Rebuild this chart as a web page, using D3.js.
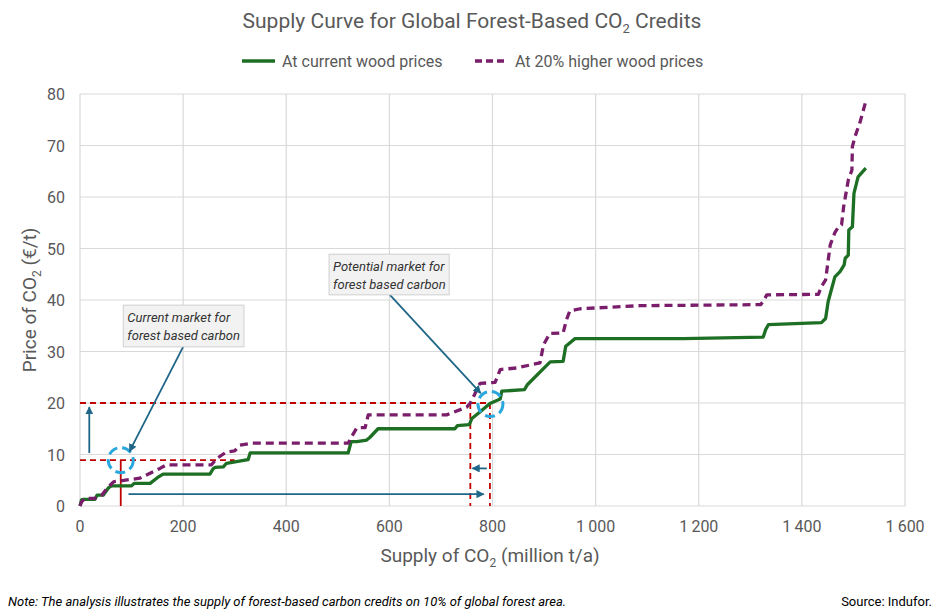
<!DOCTYPE html>
<html>
<head>
<meta charset="utf-8">
<script src="https://cdn.jsdelivr.net/npm/d3@7"></script>
<style>
  body { margin: 0; background: #fff; }
  svg { display: block; font-family: "Roboto", sans-serif; }
</style>
</head>
<body>
<div id="chart"></div>
<script>
// Supply curve data (million t/a vs €/t)
const currentX = [0, 3, 6, 29, 33, 45, 55, 61, 100, 105, 136, 150, 161, 252, 258, 262, 278, 284, 320, 326, 330,
  520, 526, 537, 556, 562, 578, 727, 732, 755, 760, 775, 795, 815, 818, 862, 868, 908, 912, 937, 942, 948, 960,
  1170, 1325, 1330, 1335, 1438, 1446, 1451, 1464, 1474, 1482, 1484, 1490, 1491, 1498, 1501, 1509, 1524];
const currentY = [0, 1.2, 1.3, 1.3, 2.1, 2.1, 3.5, 3.9, 3.9, 4.4, 4.4, 5.5, 6.2, 6.2, 7.2, 7.5, 7.6, 8.3, 8.9, 9.0, 10.3,
  10.3, 12.5, 12.5, 12.8, 13.3, 15.0, 15.0, 15.6, 15.8, 17.0, 18.2, 19.9, 20.8, 22.3, 22.6, 23.6, 27.6, 28.0, 28.1, 31.0, 31.5, 32.5,
  32.5, 32.8, 34.3, 35.2, 35.6, 36.4, 39.7, 44.5, 45.5, 46.8, 48.1, 48.7, 53.6, 54.2, 60.7, 63.9, 65.6];

const higherX = [0, 3, 10, 29, 42, 52, 65, 116, 155, 168, 255, 265, 284, 300, 310, 333,
  520, 527, 537, 553, 559, 711, 750, 757, 766, 772, 776, 805, 815, 847, 892, 899, 911, 937, 943, 950, 970,
  1086, 1320, 1325, 1332, 1432, 1438, 1446, 1455, 1464, 1471, 1477, 1481, 1490, 1497, 1498, 1503, 1513, 1524];
const higherY = [0, 0.8, 1.5, 1.5, 2.1, 3.4, 4.7, 5.4, 7.3, 8.0, 8.0, 9.2, 10.5, 10.7, 11.8, 12.2,
  12.2, 13.5, 15.2, 15.2, 17.7, 17.7, 19.2, 20.0, 21.8, 23.3, 23.8, 24.0, 26.5, 26.8, 27.8, 31.3, 33.5, 33.6, 36.0, 37.9, 38.3,
  38.9, 39.1, 39.7, 41.0, 41.1, 42.6, 43.9, 50.7, 53.1, 54.2, 54.6, 58.1, 63.3, 65.2, 69.8, 71.7, 74.6, 78.6];

const xTicks = [0, 200, 400, 600, 800, 1000, 1200, 1400, 1600];
const yTicks = [0, 10, 20, 30, 40, 50, 60, 70, 80];
const seriesNames = ["At current wood prices", "At 20% higher wood prices"];

// market markers (data units)
const currentMarket = { x: 79, y: 8.9 };
const potentialMarket = { x: 796, y: 19.8 };

const width = 940, height = 615;
const margin = { top: 94, right: 35, bottom: 109, left: 80 };

const svg = d3.select("#chart").append("svg")
  .attr("width", width)
  .attr("height", height);

const x = d3.scaleLinear().domain([0, 1600]).range([margin.left, width - margin.right]);
const y = d3.scaleLinear().domain([0, 80]).range([height - margin.bottom, margin.top]);

const green = "#1d6f24";
const purple = "#7a1e6c";
const red = "#c00000";
const teal = "#1f6688";
const sky = "#2aa7dd";
const textGrey = "#595959";

// arrow markers
const defs = svg.append("defs");
defs.append("marker")
  .attr("id", "arrow")
  .attr("viewBox", "0 0 10 10")
  .attr("refX", 9).attr("refY", 5)
  .attr("markerWidth", 4.5).attr("markerHeight", 4.5)
  .attr("orient", "auto-start-reverse")
  .append("path")
  .attr("d", "M0,0 L10,5 L0,10 Z")
  .attr("fill", teal);

// gridlines
svg.append("g")
  .selectAll("line")
  .data(yTicks)
  .join("line")
  .attr("x1", x(0)).attr("x2", x(1600))
  .attr("y1", d => y(d)).attr("y2", d => y(d))
  .attr("stroke", "#d9d9d9").attr("stroke-width", 1.2);

svg.append("g")
  .selectAll("line")
  .data(xTicks)
  .join("line")
  .attr("x1", d => x(d)).attr("x2", d => x(d))
  .attr("y1", y(0)).attr("y2", y(80))
  .attr("stroke", "#d9d9d9").attr("stroke-width", 1.2);

// tick labels
const fmt = d => d >= 1000 ? d3.format(",")(d).replace(",", "\u2009") : String(d);

svg.append("g")
  .selectAll("text")
  .data(xTicks)
  .join("text")
  .attr("x", d => x(d))
  .attr("y", y(0) + 26)
  .attr("text-anchor", "middle")
  .attr("font-size", 16)
  .attr("fill", textGrey)
  .text(fmt);

svg.append("g")
  .selectAll("text")
  .data(yTicks)
  .join("text")
  .attr("x", x(0) - 15)
  .attr("y", d => y(d) + 6)
  .attr("text-anchor", "end")
  .attr("font-size", 16)
  .attr("fill", textGrey)
  .text(d => d);

// reference lines for the markets
const refG = svg.append("g").attr("stroke", red).attr("stroke-width", 1.8).attr("fill", "none");
refG.append("line")
  .attr("x1", x(0)).attr("x2", x(300))
  .attr("y1", y(currentMarket.y)).attr("y2", y(currentMarket.y))
  .attr("stroke-dasharray", "6,4");
refG.append("line")
  .attr("x1", x(currentMarket.x)).attr("x2", x(currentMarket.x))
  .attr("y1", y(currentMarket.y)).attr("y2", y(0));
refG.append("line")
  .attr("x1", x(0)).attr("x2", x(795))
  .attr("y1", y(20)).attr("y2", y(20))
  .attr("stroke-dasharray", "6,4");
refG.selectAll("line.v")
  .data([757, 795])
  .join("line")
  .attr("class", "v")
  .attr("x1", d => x(d)).attr("x2", d => x(d))
  .attr("y1", y(20)).attr("y2", y(0))
  .attr("stroke-dasharray", "6,4");

// curves
const line = d3.line()
  .x(d => x(d[0]))
  .y(d => y(d[1]));

svg.append("path")
  .datum(d3.zip(currentX, currentY))
  .attr("d", line)
  .attr("fill", "none")
  .attr("stroke", green)
  .attr("stroke-width", 3.3)
  .attr("stroke-linejoin", "round");

svg.append("path")
  .datum(d3.zip(higherX, higherY))
  .attr("d", line)
  .attr("fill", "none")
  .attr("stroke", purple)
  .attr("stroke-width", 3.3)
  .attr("stroke-dasharray", "8,5")
  .attr("stroke-linejoin", "round");

// dashed circles around the markets
svg.selectAll("circle.mkt")
  .data([currentMarket, potentialMarket])
  .join("circle")
  .attr("class", "mkt")
  .attr("cx", d => x(d.x))
  .attr("cy", d => y(d.y))
  .attr("r", 12.5)
  .attr("fill", "none")
  .attr("stroke", sky)
  .attr("stroke-width", 3)
  .attr("stroke-dasharray", "10,5");

// arrows
const arrows = [
  [[18, 10.3], [18, 19.2]],
  [[94, 2.3], [783, 2.3]],
  [[789, 7.3], [761, 7.3]],
  [[200, 30.9], [96, 10.6]],
  [[601, 41.0], [777, 21.9]]
];
svg.append("g")
  .selectAll("line")
  .data(arrows)
  .join("line")
  .attr("x1", d => x(d[0][0])).attr("y1", d => y(d[0][1]))
  .attr("x2", d => x(d[1][0])).attr("y2", d => y(d[1][1]))
  .attr("stroke", teal)
  .attr("stroke-width", 1.8)
  .attr("marker-end", "url(#arrow)");

// callout boxes
const callouts = [
  { x0: 84, x1: 318, y0: 39.0, y1: 30.9, lines: ["Current market for", "forest based carbon"] },
  { x0: 483, x1: 716, y0: 48.9, y1: 41.0, lines: ["Potential market for", "forest based carbon"] }
];
const cg = svg.append("g").selectAll("g").data(callouts).join("g");
cg.append("rect")
  .attr("x", d => x(d.x0))
  .attr("y", d => y(d.y0))
  .attr("width", d => x(d.x1) - x(d.x0))
  .attr("height", d => y(d.y1) - y(d.y0))
  .attr("fill", "#f2f2f2")
  .attr("stroke", "#d0d0d0")
  .attr("stroke-width", 1);
cg.append("text")
  .attr("font-size", 13)
  .attr("font-style", "italic")
  .attr("fill", "#333")
  .selectAll("tspan")
  .data(d => d.lines.map((t, i) => ({ t, i, d })))
  .join("tspan")
  .attr("x", e => x(e.d.x0) + 4)
  .attr("y", e => y(e.d.y0) + 17 + e.i * 18)
  .text(e => e.t);

// title
const title = svg.append("text")
  .attr("x", 472).attr("y", 28)
  .attr("text-anchor", "middle")
  .attr("font-size", 21)
  .attr("fill", textGrey);
title.append("tspan").text("Supply Curve for Global Forest-Based CO");
title.append("tspan").attr("font-size", 13).attr("dy", 5).text("2");
title.append("tspan").attr("dy", -5).text(" Credits");

// legend
const legend = svg.append("g").attr("transform", "translate(242,61)");
legend.append("line")
  .attr("x1", 0).attr("x2", 33)
  .attr("stroke", green).attr("stroke-width", 3.3);
legend.append("text")
  .attr("x", 40).attr("y", 6)
  .attr("font-size", 16).attr("fill", textGrey)
  .text(seriesNames[0]);
legend.append("line")
  .attr("x1", 233).attr("x2", 266)
  .attr("stroke", purple).attr("stroke-width", 3.3)
  .attr("stroke-dasharray", "7,4");
legend.append("text")
  .attr("x", 273).attr("y", 6)
  .attr("font-size", 16).attr("fill", textGrey)
  .text(seriesNames[1]);

// axis titles
const xTitle = svg.append("text")
  .attr("x", 490).attr("y", 562)
  .attr("text-anchor", "middle")
  .attr("font-size", 19)
  .attr("fill", textGrey);
xTitle.append("tspan").text("Supply of CO");
xTitle.append("tspan").attr("font-size", 12).attr("dy", 5).text("2");
xTitle.append("tspan").attr("dy", -5).text(" (million t/a)");

const yTitle = svg.append("text")
  .attr("transform", "translate(36,300) rotate(-90)")
  .attr("text-anchor", "middle")
  .attr("font-size", 19)
  .attr("fill", textGrey);
yTitle.append("tspan").text("Price of CO");
yTitle.append("tspan").attr("font-size", 12).attr("dy", 5).text("2");
yTitle.append("tspan").attr("dy", -5).text(" (€/t)");

// footer
svg.append("text")
  .attr("x", 8).attr("y", 606)
  .attr("font-size", 13)
  .attr("font-style", "italic")
  .attr("fill", "#000")
  .text("Note: The analysis illustrates the supply of forest-based carbon credits on 10% of global forest area.");
svg.append("text")
  .attr("x", 932).attr("y", 606)
  .attr("text-anchor", "end")
  .attr("font-size", 13)
  .attr("fill", "#000")
  .text("Source: Indufor.");
</script>
</body>
</html>
